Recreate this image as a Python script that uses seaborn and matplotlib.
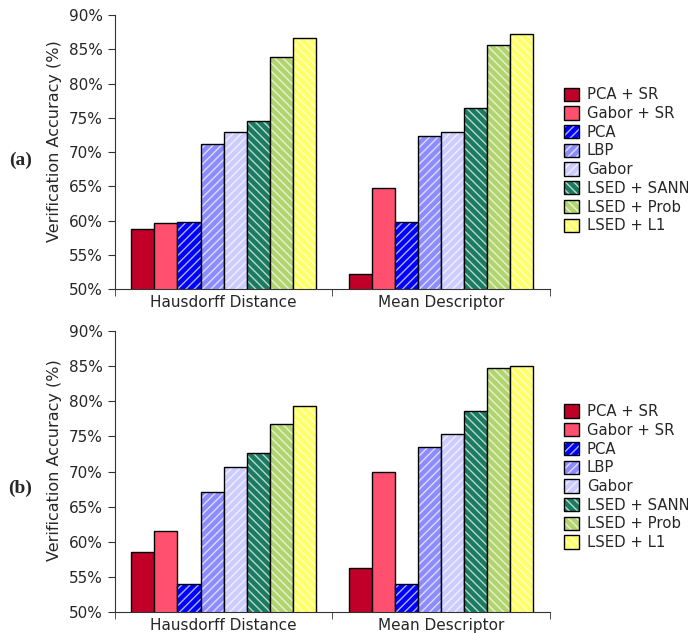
import pandas as pd
import seaborn as sns
import matplotlib.pyplot as plt
from matplotlib.patches import Patch
from matplotlib.colors import to_rgba

# data
methods = ["PCA + SR", "Gabor + SR", "PCA", "LBP", "Gabor", "LSED + SANN", "LSED + Prob", "LSED + L1"]
groups = ["Hausdorff Distance", "Mean Descriptor"]
acc_a_hausdorff = [58.7, 59.7, 59.8, 71.2, 73.0, 74.6, 83.9, 86.6]
acc_a_mean = [52.2, 64.8, 59.8, 72.4, 73.0, 76.5, 85.7, 87.3]
acc_b_hausdorff = [58.5, 61.5, 54.0, 67.1, 70.7, 72.7, 76.7, 79.3]
acc_b_mean = [56.2, 69.9, 54.0, 73.5, 75.4, 78.6, 84.8, 85.0]

colors = ["#C00028", "#FF5070", "#0000FF", "#8C8CFF", "#CCCCFF", "#1B7B62", "#B2D46E", "#FFFF66"]
hatches = ["", "", "////", "////", "////", "\\\\\\\\", "\\\\\\\\", "\\\\\\\\"]

sns.set_style("ticks")
plt.rcParams['hatch.linewidth'] = 1.0

def make_df(h, m):
    rows = []
    for i, meth in enumerate(methods):
        rows.append({"group": groups[0], "method": meth, "acc": h[i]})
        rows.append({"group": groups[1], "method": meth, "acc": m[i]})
    return pd.DataFrame(rows)

fig = plt.figure(figsize=(6.88, 6.33), dpi=100)
ax_a = fig.add_axes([0.167, 0.5434, 0.632, 0.4326])
ax_b = fig.add_axes([0.167, 0.0332, 0.632, 0.4438])

for ax, h, m, tag, tag_y, leg_y in [(ax_a, acc_a_hausdorff, acc_a_mean, "(a)", 0.47, 0.47),
                                    (ax_b, acc_b_hausdorff, acc_b_mean, "(b)", 0.44, 0.48)]:
    df = make_df(h, m)
    sns.barplot(data=df, x="group", y="acc", hue="method", hue_order=methods,
                order=groups, palette=colors, width=0.85, gap=0,
                edgecolor="black", linewidth=1.0, saturation=1, ax=ax,
                legend=False)
    # hatch each bar according to its method
    for ci, cont in enumerate(ax.containers):
        for p in cont.patches:
            p.set_hatch(hatches[ci])
            p._hatch_color = to_rgba("white", 0.7)
    ax.set_ylim(50, 90)
    ax.set_xlim(-0.5, 1.5)
    ax.set_yticks(range(50, 91, 5))
    ax.set_yticklabels([f"{v}%" for v in range(50, 91, 5)], fontsize=11)
    ax.set_xticks([0, 1])
    ax.set_xticklabels(groups, fontsize=11)
    ax.tick_params(axis="x", which="major", length=0, pad=4)
    ax.set_xticks([-0.5, 0.5, 1.5], minor=True)
    ax.tick_params(axis="x", which="minor", length=5, color="#333333")
    ax.tick_params(axis="y", length=5, color="#333333")
    ax.set_xlabel("")
    ax.set_ylabel("Verification Accuracy (%)", fontsize=11.5, labelpad=5, y=0.54)
    sns.despine(ax=ax)
    for s in ["left", "bottom"]:
        ax.spines[s].set_color("#333333")

    handles = []
    for c, ht, lab in zip(colors, hatches, methods):
        hp = Patch(facecolor=c, edgecolor="black", hatch=ht, label=lab, linewidth=1.0)
        hp._hatch_color = to_rgba("white", 0.7)
        handles.append(hp)
    ax.legend(handles=handles, loc="center left", bbox_to_anchor=(1.01, leg_y),
              frameon=False, fontsize=10.7, handlelength=1.0, handleheight=1.0,
              labelspacing=0.25, handletextpad=0.5, borderaxespad=0.3)
    ax.text(-0.218, tag_y, tag, transform=ax.transAxes, fontsize=14,
            fontweight="bold", family="Liberation Serif", ha="center", va="center")

fig.savefig("out.png", dpi=100)
